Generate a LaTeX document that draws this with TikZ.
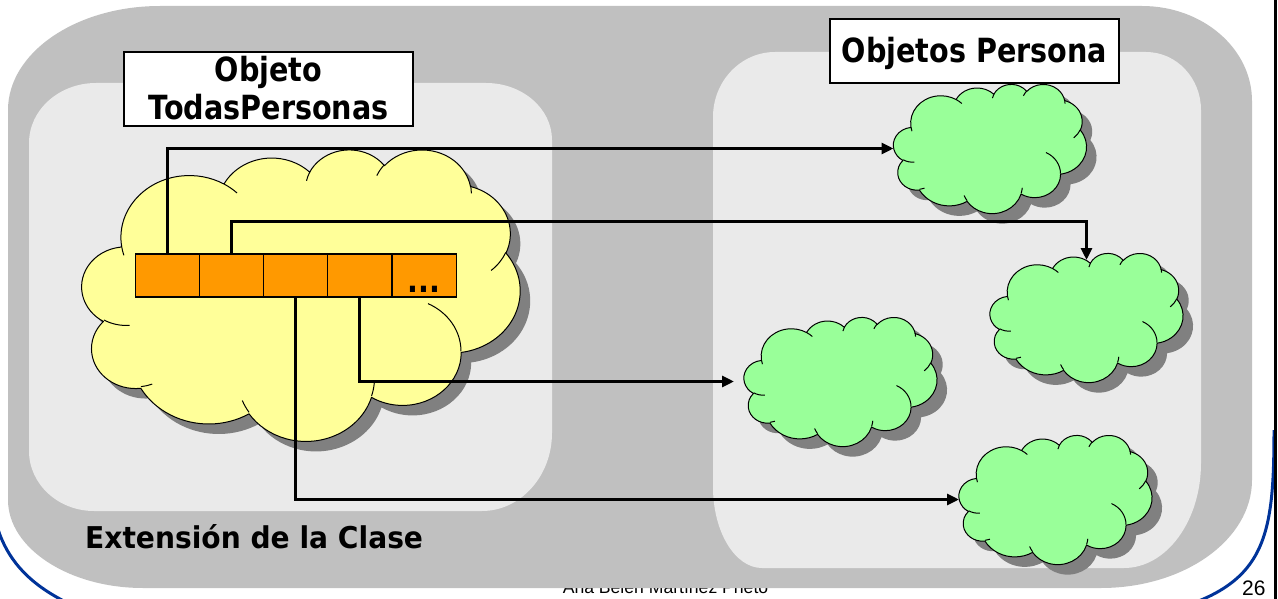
\documentclass[tikz,border=0pt]{standalone}
\usepackage{fontspec}
\setmainfont{Liberation Sans}
\newfontfamily\labelfont{DejaVu Sans}[FakeStretch=0.86]
\usetikzlibrary{arrows.meta}

\definecolor{framegray}{RGB}{192,192,192}
\definecolor{panelgray}{RGB}{234,234,234}
\definecolor{cloudyellow}{RGB}{255,255,153}
\definecolor{cloudgreen}{RGB}{153,255,153}
\definecolor{cellorange}{RGB}{255,153,0}
\definecolor{shadowgray}{RGB}{128,128,128}
\definecolor{slideblue}{RGB}{0,51,153}

% Cloud outline in a 432 x 432 box (y pointing down).
% Each arc is given by its radii and its visual start/sweep angles;
% the angles are turned into the parametric ones that TikZ expects.
\newcommand\cloudoutline{}
\newcommand\cloudcreases{}
\newcommand\addcloudarc[5]{%
  \pgfmathsetmacro\cldA{atan2(sin(#4)/#3,cos(#4)/#2)}%
  \pgfmathsetmacro\cldB{atan2(sin(#4+#5)/#3,cos(#4+#5)/#2)}%
  \pgfmathsetmacro\cldD{#5+Mod(\cldB-\cldA-#5+180,360)-180}%
  \xdef#1{\unexpanded\expandafter{#1} arc[start angle=\cldA, delta angle=\cldD, x radius=#2, y radius=#3]}%
}
\newcommand\addcloudpoint[3]{\xdef#1{\unexpanded\expandafter{#1} (#2,#3)}}

\addcloudarc\cloudoutline{67.53}{91.90}{-190.48748}{123.78053}
\addcloudarc\cloudoutline{53.33}{72.67}{-144.10238}{89.94523}
\addcloudarc\cloudoutline{43.65}{59.45}{-145.80792}{99.72302}
\addcloudarc\cloudoutline{48.57}{65.95}{-130.98607}{117.24173}
\addcloudarc\cloudoutline{53.33}{72.73}{-78.70888}{109.02692}
\addcloudarc\cloudoutline{67.75}{92.20}{-46.26725}{130.269}
\addcloudarc\cloudoutline{57.85}{78.67}{0.62502}{114.03333}
\addcloudarc\cloudoutline{67.52}{92.15}{22.4516}{115.17255}
\addcloudarc\cloudoutline{77.20}{105.43}{66.24263}{75.71102}
\addcloudarc\cloudoutline{43.60}{59.18}{-274.94208}{146.73557}
\addcloudarc\cloudoutline{43.45}{59.45}{-246.8285}{152.51885}

\addcloudpoint\cloudcreases{46.93}{261.77}\addcloudarc\cloudcreases{43.45}{59.45}{86.742}{26.4295}
\addcloudpoint\cloudcreases{69.28}{348.99}\addcloudarc\cloudcreases{43.60}{59.18}{73.61047}{11.44747}
\addcloudpoint\cloudcreases{164.78}{390.90}\addcloudarc\cloudcreases{67.52}{92.15}{137.62415}{14.0811}
\addcloudpoint\cloudcreases{288.27}{347.51}\addcloudarc\cloudcreases{67.52}{92.15}{6.45327}{15.99835}
\addcloudpoint\cloudcreases{341.29}{229.54}\addcloudarc\cloudcreases{57.85}{78.67}{-70.29235}{70.91737}
\addcloudpoint\cloudcreases{417.98}{153.54}\addcloudarc\cloudcreases{53.33}{72.73}{30.31803}{27.7515}
\addcloudpoint\cloudcreases{383.24}{54.26}\addcloudarc\cloudcreases{48.57}{65.95}{-13.74433}{14.8589}
\addcloudpoint\cloudcreases{290.78}{39.52}\addcloudarc\cloudcreases{48.57}{65.95}{-149.18145}{18.19537}
\addcloudpoint\cloudcreases{221.41}{47.20}\addcloudarc\cloudcreases{43.65}{59.45}{-163.49427}{17.68635}
\addcloudpoint\cloudcreases{140.00}{51.92}\addcloudarc\cloudcreases{67.53}{91.90}{-66.70695}{12.31935}
\addcloudpoint\cloudcreases{41.27}{157.89}\addcloudarc\cloudcreases{67.53}{91.90}{157.65435}{11.85817}

\begin{document}
\begin{tikzpicture}[x=1pt,y=-1pt,
  cloudline/.style={line width=1pt,line join=round},
  pics/cloud/.style n args={3}{code={
    \begin{scope}[shift={(10,10)},xscale=#1/432,yscale=#2/432]
      \fill[shadowgray] (39,143.7) \cloudoutline -- cycle;
    \end{scope}
    \begin{scope}[xscale=#1/432,yscale=#2/432]
      \draw[cloudline,fill=#3] (39,143.7) \cloudoutline -- cycle;
      \draw[cloudline] \cloudcreases;
    \end{scope}
  }},
  cloudspot/.style={inner sep=0pt,outer sep=0pt},
  cell/.style={draw,line width=1.2pt,fill=cellorange,minimum width=64.2pt,
    minimum height=43pt,inner sep=0pt,outer sep=0pt},
  labelbox/.style={draw,line width=1.2pt,fill=white,inner sep=0pt},
  labeltext/.style={inner sep=0pt,font=\labelfont\bfseries\fontsize{33.3}{38}\selectfont},
  conn/.style={line width=3pt,-{Triangle[length=12pt,width=11pt]}},
  footer/.style={inner sep=0pt}]
\useasboundingbox (0,0) rectangle (1278,599);
\clip (0,0) rectangle (1278,599);

% slide footer
\node[footer,anchor=base,font=\fontsize{17.6}{20}\selectfont] (author) at (665.5,593) {Ana Belén Martínez Prieto};
\node[footer,anchor=base west,font=\fontsize{21}{24}\selectfont] (pageno) at (1242,595) {26};
\draw[slideblue,line width=3pt] (-10,470) .. controls (-10,550) and (20,590) .. (110,620);
\draw[slideblue,line width=3pt] (1274,430) .. controls (1274,560) and (1262,600) .. (1100,625);
\draw[line width=2.2pt] (1275.5,-2) -- (1275.5,601);

% class extension frame
\fill[framegray] (8,110) .. controls (8,52.6) and (76.1,6) .. (160,6) -- (1142,6)
  .. controls (1202.7,6) and (1252,48.6) .. (1252,101) -- (1252,480)
  .. controls (1252,539.6) and (1184.4,588) .. (1101,588) -- (143,588)
  .. controls (68.5,588) and (8,548) .. (8,500) -- cycle;

% inner panels
\fill[panelgray] (29,143) .. controls (29,110) and (59,83) .. (96,83) -- (486,83)
  .. controls (522.4,83) and (552,108.5) .. (552,140) -- (552,433)
  .. controls (552,476) and (520.6,511) .. (482,511) -- (94,511)
  .. controls (58.1,511) and (29,484) .. (29,451) -- cycle;
\fill[panelgray] (713,117) .. controls (713,81.1) and (740.8,52) .. (775,52) -- (1146,52)
  .. controls (1176.4,52) and (1201,78) .. (1201,110) -- (1201,463)
  .. controls (1201,521) and (1166.5,568) .. (1124,568) -- (762,568)
  .. controls (735,568) and (713,531.7) .. (713,487) -- cycle;

% titles
\node[labelbox,minimum width=289pt,minimum height=74pt] (boxA) at (268.5,89) {};
\node[labeltext,anchor=base] (titleA1) at (268.5,82) {Objeto};
\node[labeltext,anchor=base] (titleA2) at (268.5,120) {TodasPersonas};
\node[labelbox,minimum width=289pt,minimum height=64pt] (boxB) at (974.5,51) {};
\node[labeltext,anchor=base] (titleB) at (974.5,63) {Objetos Persona};
\node[inner sep=0pt,anchor=base west,font=\labelfont\bfseries\fontsize{30}{36}\selectfont]
  (extension) at (85,548) {\scalebox{1.09}[1]{Extensión de la Clase}};

% the TodasPersonas object and its array of references
\node[cloudspot,minimum width=438pt,minimum height=291pt] (ycloud) at (301,294.5) {};
\pic at (ycloud.north west) {cloud={438}{291}{cloudyellow}};
\node[cell] (c1) at (167.2,275.5) {};
\node[cell] (c2) at (231.4,275.5) {};
\node[cell] (c3) at (295.6,275.5) {};
\node[cell] (c4) at (359.8,275.5) {};
\node[cell] (c5) at (424.0,275.5) {};
\node[labeltext,anchor=base] (dots) at (424,292) {...};

% Persona objects
\node[cloudspot,minimum width=193pt,minimum height=129pt] (g1) at (990,148.5) {};
\node[cloudspot,minimum width=193pt,minimum height=129pt] (g2) at (1086.5,317.5) {};
\node[cloudspot,minimum width=193pt,minimum height=129pt] (g3) at (840.5,381.5) {};
\node[cloudspot,minimum width=193pt,minimum height=129pt] (g4) at (1055.5,499.5) {};
\pic at (g1.north west) {cloud={193}{129}{cloudgreen}};
\pic at (g2.north west) {cloud={193}{129}{cloudgreen}};
\pic at (g3.north west) {cloud={193}{129}{cloudgreen}};
\pic at (g4.north west) {cloud={193}{129}{cloudgreen}};

% references
\draw[conn] (c1.north) |- (g1.west);
\draw[conn] (c2.north) -- ++(0,-33) -| ([yshift=-7pt]g2.north);
\draw[conn] (c3.south) |- (g4.west);
\draw[conn] (c4.south) |- ([xshift=-10pt]g3.west);
\end{tikzpicture}
\end{document}
